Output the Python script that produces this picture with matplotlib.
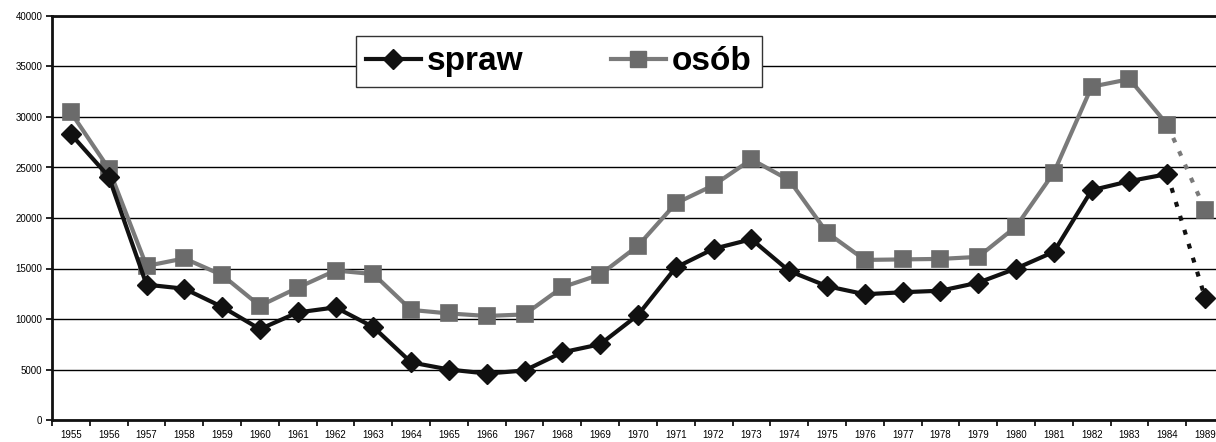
import numpy as np
import matplotlib
matplotlib.use("Agg")
import matplotlib.pyplot as plt
from matplotlib.lines import Line2D

plt.rcParams['font.family'] = ['Liberation Sans', 'DejaVu Sans']

years = ['1955', '1956', '1957', '1958', '1959', '1960', '1961', '1962', '1963', '1964',
         '1965', '1966', '1967', '1968', '1969', '1970', '1971', '1972', '1973', '1974',
         '1975', '1976', '1977', '1978', '1979', '1980', '1981', '1982', '1983', '1984',
         '1989']

spraw = [28300, 24100, 13400, 13000, 11200, 9000, 10650, 11150, 9200, 5700,
         5000, 4600, 4900, 6700, 7500, 10400, 15100, 16950, 17900, 14750,
         13250, 12450, 12650, 12800, 13600, 15000, 16650, 22750, 23650, 24350,
         12100]

osob = [30450, 24900, 15250, 16000, 14350, 11300, 13100, 14800, 14450, 10900,
        10550, 10300, 10450, 13150, 14400, 17250, 21450, 23250, 25800, 23750,
        18550, 15850, 15900, 15950, 16150, 19150, 24500, 33000, 33750, 29250,
        20800]

BLACK = '#111111'
GRAY_LINE = '#7a7a7a'
GRAY_MARK = '#6b6b6b'

W, H = 1216, 442
fig = plt.figure(figsize=(W / 100, H / 100), dpi=100)
ax = fig.add_axes([52 / W, 22 / H, 1172 / W, 404 / H])

x = np.arange(len(years))
n = len(years) - 1  # last point (1989) joined by dotted line

# osób
ax.plot(x[:n], osob[:n], color=GRAY_LINE, lw=3.0, zorder=3)
ax.plot(x[n - 1:], osob[n - 1:], color=GRAY_LINE, lw=3.0, dashes=(1.2, 2.3), zorder=3)
ax.plot(x, osob, ls='none', marker='s', ms=11.5, mfc=GRAY_MARK, mec=GRAY_MARK,
        mew=1.2, zorder=4)

# spraw
ax.plot(x[:n], spraw[:n], color=BLACK, lw=3.0, zorder=5)
ax.plot(x[n - 1:], spraw[n - 1:], color=BLACK, lw=3.0, dashes=(1.2, 2.3), zorder=5)
ax.plot(x, spraw, ls='none', marker='D', ms=10.5, mfc=BLACK, mec=BLACK,
        mew=1.0, zorder=6)

ax.set_xlim(-0.5, len(years) - 0.5)
ax.set_ylim(0, 40000)
ax.set_yticks(np.arange(0, 40001, 5000))
ax.set_yticklabels([str(v) for v in range(0, 40001, 5000)], fontsize=7)
ax.set_xticks(x)
ax.set_xticklabels(years, fontsize=7)
ax.set_xticks(np.arange(-0.5, len(years), 1.0), minor=True)
ax.tick_params(axis='x', which='major', length=0, pad=7)
ax.tick_params(axis='x', which='minor', length=4, width=1.2, direction='out')
ax.tick_params(axis='y', length=4, width=1.2, direction='out', pad=3)

ax.yaxis.grid(True, color='black', lw=1.0)
ax.set_axisbelow(True)
for side in ['left', 'bottom', 'top']:
    ax.spines[side].set_linewidth(2.0)
    ax.spines[side].set_color(BLACK)
ax.spines['right'].set_visible(False)

handles = [
    Line2D([], [], color=BLACK, lw=3.0, marker='D', ms=10.5, mfc=BLACK, mec=BLACK),
    Line2D([], [], color=GRAY_LINE, lw=3.0, marker='s', ms=11.5, mfc=GRAY_MARK, mec=GRAY_MARK),
]
leg = ax.legend(handles, ['spraw', 'osób'], ncol=2, loc='upper left',
                bbox_to_anchor=(0.259, 0.950), borderaxespad=0,
                prop={'family': 'Liberation Sans', 'weight': 'bold', 'size': 24},
                frameon=True, fancybox=False, framealpha=1, edgecolor='#333333',
                handlelength=1.65, handletextpad=0.2, columnspacing=2.6,
                borderpad=0.3)
leg.get_frame().set_linewidth(1.0)
leg.set_zorder(10)

fig.savefig('out.png', dpi=100)
